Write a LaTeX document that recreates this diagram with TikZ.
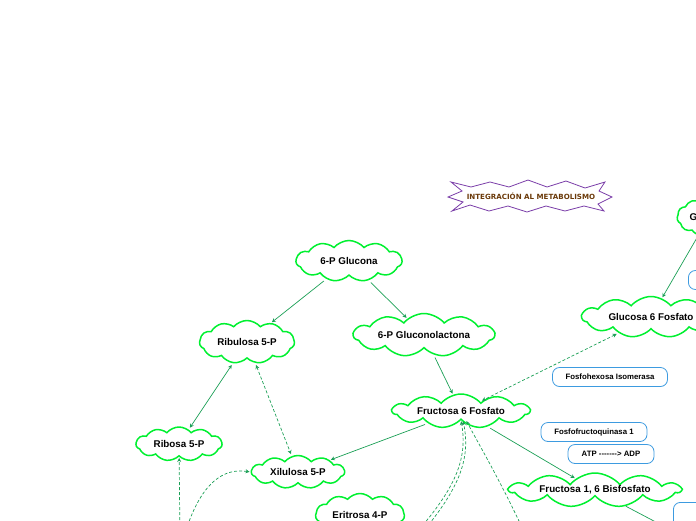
\documentclass[tikz,border=0pt]{standalone}
\usepackage{fontspec}
\setmainfont{Liberation Sans}
\newfontfamily\titlefont{DejaVu Sans}
\usepackage{xcolor}
\definecolor{cloudgreen}{HTML}{00F030}
\definecolor{linkgreen}{HTML}{1A9F55}
\definecolor{enzblue}{HTML}{3D9BE0}
\definecolor{burstpurple}{HTML}{7A3DA8}
\definecolor{titlebrown}{HTML}{6B3A0A}
\usetikzlibrary{shapes.symbols,arrows.meta}
\tikzset{
  met/.style  ={cloud, cloud puffs=11, cloud puff arc=100, cloud ignores aspect,
                draw=cloudgreen, line width=1.5pt, fill=white, inner sep=0pt,
                font=\fontsize{9.8}{11}\selectfont\bfseries},
  enz/.style  ={rectangle, rounded corners=7pt, draw=enzblue, line width=0.8pt,
                fill=white, minimum height=19pt, inner xsep=10pt,
                font=\fontsize{7.8}{9}\selectfont\bfseries},
  titletext/.style={inner sep=1pt, text=titlebrown,
                font=\titlefont\fontsize{7.1}{8}\selectfont\bfseries},
  burstline/.style={draw=burstpurple, line width=0.8pt, line join=miter},
  arr/.style  ={-{Stealth[length=4pt,width=4pt]}, linkgreen, line width=0.7pt,
                shorten <=3pt, shorten >=1pt},
  darr/.style ={arr, dash pattern=on 3pt off 2pt},
  dbarr/.style={{Stealth[length=4pt,width=4pt]}-{Stealth[length=4pt,width=4pt]},
                linkgreen, line width=0.7pt, shorten <=2pt, shorten >=2pt},
  ddbarr/.style={dbarr, dash pattern=on 3pt off 2pt},
}

\begin{document}
\begin{tikzpicture}[x=1pt,y=-1pt]
  \useasboundingbox (0,0) rectangle (696,520);
  % title
  \node[titletext] (title) at (531,196) {INTEGRACIÓN AL METABOLISMO};
  \begin{scope}[shift={(title.center)}]
    \draw[burstline] (-83,1) -- (-69,-5) -- (-80,-14) -- (-60,-9) -- (-41,-14)
      -- (-22,-9) -- (-3,-16) -- (16,-9) -- (35,-15) -- (54,-8) -- (74,-14)
      -- (68,-5) -- (81,1) -- (67,8) -- (73,15) -- (53,10) -- (34,15) -- (15,10)
      -- (-4,16) -- (-23,10) -- (-42,15) -- (-61,9) -- (-79,15) -- (-68,6) -- cycle;
  \end{scope}
  % metabolites
  \node[met, minimum width=64pt, minimum height=38pt] (gluc) at (709,217) {Glucosa};
  \node[met, minimum width=138pt, minimum height=41pt] (g6f) at (651,317) {Glucosa 6 Fosfato};
  \node[met, minimum width=106pt, minimum height=41pt] (pgluc) at (349,261) {6-P Glucona};
  \node[met, minimum width=141pt, minimum height=43pt] (plact) at (424,335) {6-P Gluconolactona};
  \node[met, minimum width=95pt, minimum height=43pt] (rbl) at (247,342) {Ribulosa 5-P};
  \node[met, minimum width=86pt, minimum height=34pt] (rbs) at (179,444) {Ribosa 5-P};
  \node[met, minimum width=93pt, minimum height=33pt] (xil) at (298,472) {Xilulosa 5-P};
  \node[met, minimum width=89pt, minimum height=43pt] (eri) at (360,515) {Eritrosa 4-P};
  \node[met, minimum width=137pt, minimum height=34pt] (f6f) at (461,411) {Fructosa 6 Fosfato};
  \node[met, minimum width=171pt, minimum height=34pt] (f16bp) at (595,490) {Fructosa 1, 6 Bisfosfato};
  % enzymes
  \node[enz, minimum width=115pt] (pgi) at (610,377) {Fosfohexosa Isomerasa};
  \node[enz, minimum width=106pt] (pfk) at (594,432) {Fosfofructoquinasa 1};
  \node[enz, minimum width=86pt] (atp) at (611,454) {ATP -{}-{}-{}-{}-{}-{}-{}> ADP};
  \node[enz, minimum width=80pt, anchor=west] (hk) at (688,280) {};
  \node[enz, minimum width=80pt, minimum height=40pt, anchor=north west, align=left,
        inner xsep=14pt] (ald) at (673,502) {Aldolasa};
  % loose ends below the frame
  \coordinate (rbsin) at (180,540);
  \coordinate (xilin) at (183,540);
  \coordinate (f6fina) at (410,540);
  \coordinate (f6finb) at (416,540);
  \coordinate (f6finc) at (528,540);
  \coordinate (f16out) at (690,540);
  % connectors
  \draw[arr] (gluc) -- (g6f);
  \draw[arr] (pgluc) -- (rbl);
  \draw[arr] (pgluc) -- (plact);
  \draw[arr] (plact) -- (f6f);
  \draw[dbarr] (rbl) -- (rbs);
  \draw[ddbarr] (rbl) -- (xil);
  \draw[arr] (f6f) -- (xil);
  \draw[arr] (f6f) -- (f16bp);
  \draw[ddbarr] (g6f) -- (f6f);
  \draw[arr, shorten <=0pt] (f16bp) -- (f16out);
  \draw[darr, shorten <=0pt] (rbsin) -- (rbs);
  \draw[darr, shorten <=0pt] (xilin) .. controls (200,480) and (225,468) .. (xil.west);
  \draw[darr, shorten <=0pt] (f6fina) .. controls (455,490) and (468,460) .. (f6f.south);
  \draw[darr, shorten <=0pt] (f6finb) .. controls (459,490) and (471,460) .. ([xshift=2pt]f6f.south);
  \draw[darr, shorten <=0pt] (f6finc) .. controls (500,480) and (482,450) .. ([xshift=5pt]f6f.south);
\end{tikzpicture}
\end{document}
